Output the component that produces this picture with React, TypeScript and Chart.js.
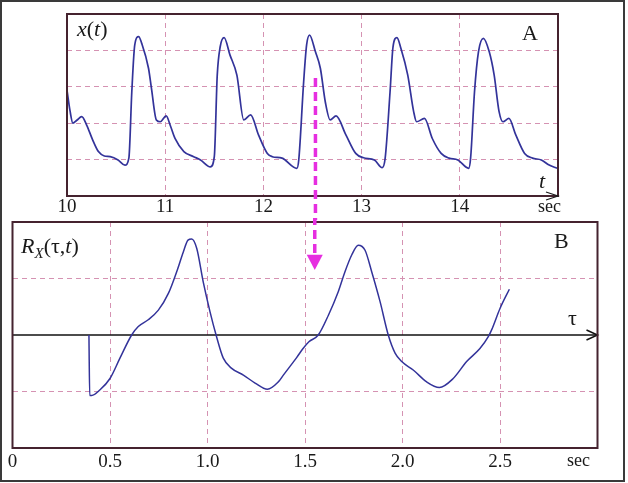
import React, { useEffect, useRef } from 'react';
import { Chart, registerables } from 'chart.js';

Chart.register(...registerables);

// ---- Panel A: signal x(t) ----
const timeA = [
  10.0, 10.03, 10.06, 10.1, 10.15, 10.2, 10.26, 10.32, 10.38, 10.44, 10.52, 10.59, 10.63, 10.66, 10.69, 10.73,
  10.76, 10.83, 10.86, 10.91, 10.95, 11.01, 11.05, 11.1, 11.19, 11.29, 11.36, 11.46, 11.5, 11.53, 11.56, 11.6,
  11.66, 11.73, 11.8, 11.87, 11.95, 12.04, 12.09, 12.19, 12.34, 12.36, 12.41, 12.44, 12.47, 12.53, 12.58, 12.63,
  12.68, 12.74, 12.84, 12.94, 13.02, 13.13, 13.21, 13.24, 13.29, 13.32, 13.36, 13.4, 13.47, 13.53, 13.56, 13.64,
  13.72, 13.81, 13.89, 13.98, 14.09, 14.11, 14.15, 14.19, 14.24, 14.3, 14.35, 14.4, 14.44, 14.5, 14.57, 14.66,
  14.74, 14.83, 14.91, 14.99,
];
const signalA = [
  2.91, 2.35, 2.0, 2.08, 2.18, 1.95, 1.55, 1.22, 1.1, 1.08, 0.99, 0.85, 1.04, 2.87, 4.15, 4.38,
  4.2, 3.51, 2.96, 2.09, 2.04, 2.2, 1.95, 1.58, 1.22, 1.08, 0.99, 0.8, 1.08, 3.32, 4.1, 4.35,
  3.87, 3.32, 2.09, 2.23, 1.68, 1.17, 1.08, 1.04, 0.76, 0.99, 3.14, 4.15, 4.42, 3.96, 3.51, 2.59,
  2.09, 2.2, 1.68, 1.17, 1.05, 0.99, 0.78, 1.04, 2.87, 4.1, 4.35, 4.06, 3.32, 2.32, 2.04, 2.13,
  1.58, 1.17, 1.04, 0.99, 0.76, 1.04, 2.87, 3.96, 4.33, 3.96, 3.32, 2.32, 2.04, 2.13, 1.68, 1.17,
  1.04, 0.99, 0.85, 0.76,
];
const tickLabelsA = ['10', '11', '12', '13', '14'];

// ---- Panel B: correlation R_X(tau, t) ----
const tauB = [
  0.392, 0.396, 0.406, 0.449, 0.5, 0.551, 0.611, 0.645, 0.696, 0.748, 0.8, 0.842, 0.876, 0.9, 0.919, 0.945,
  0.978, 1.013, 1.044, 1.081, 1.124, 1.184, 1.244, 1.307, 1.363, 1.389, 1.457, 1.49, 1.52, 1.568, 1.62, 1.671,
  1.705, 1.74, 1.773, 1.808, 1.842, 1.885, 1.927, 1.962, 1.996, 2.055, 2.124, 2.189, 2.26, 2.329, 2.397, 2.44,
  2.457, 2.5, 2.548,
];
const corrB = [
  0.0, -1.07, -1.07, -0.97, -0.77, -0.41, 0.0, 0.15, 0.27, 0.44, 0.74, 1.12, 1.47, 1.68, 1.7, 1.53,
  0.94, 0.41, 0.0, -0.41, -0.59, -0.71, -0.85, -0.96, -0.83, -0.71, -0.4, -0.24, -0.12, 0.0, 0.35, 0.77,
  1.12, 1.42, 1.59, 1.5, 1.12, 0.59, 0.0, -0.32, -0.47, -0.62, -0.83, -0.93, -0.77, -0.47, -0.24, -0.03,
  0.09, 0.47, 0.81,
];
const tickLabelsB = ['0', '0.5', '1.0', '1.5', '2.0', '2.5'];

// arrow linking the two panels
const ARROW_T = 12.53;
const ARROW_TOP_V = 3.24;
const ARROW_TAU = 1.55;
const HEAD_TOP_V = 1.42;
const HEAD_TIP_V = 1.15;

const FONT = '"Liberation Serif", "Times New Roman", serif';
const FRAME = '#45232f';
const GRID = '#d592b2';
const CURVE = '#33339a';
const MAGENTA = '#e62ee0';
const TEXT = '#1a1a1a';

const framePlugin = {
  id: 'frame',
  afterDatasetsDraw(chart: any) {
    const { ctx, chartArea: a } = chart;
    ctx.save();
    ctx.strokeStyle = FRAME;
    ctx.lineWidth = 2;
    ctx.strokeRect(a.left, a.top, a.right - a.left, a.bottom - a.top);
    ctx.restore();
  },
};

function chevron(ctx: any, x: number, y: number, len: number, half: number) {
  ctx.beginPath();
  ctx.moveTo(x - len, y - half);
  ctx.lineTo(x, y);
  ctx.lineTo(x - len, y + half);
  ctx.stroke();
}

const plotA = {
  id: 'plotA',
  afterDraw(chart: any) {
    const { ctx, chartArea: a, scales } = chart;
    ctx.save();
    ctx.strokeStyle = TEXT;
    ctx.lineWidth = 1.2;
    chevron(ctx, a.right, a.bottom, 12, 4);
    const x = scales.x.getPixelForValue(ARROW_T);
    const y0 = scales.y.getPixelForValue(ARROW_TOP_V);
    ctx.strokeStyle = MAGENTA;
    ctx.lineWidth = 3.5;
    ctx.setLineDash([9, 5]);
    ctx.beginPath();
    ctx.moveTo(x, y0);
    ctx.lineTo(x, chart.height);
    ctx.stroke();
    ctx.restore();
  },
};

const plotB = {
  id: 'plotB',
  beforeDatasetsDraw(chart: any) {
    const { ctx, chartArea: a, scales } = chart;
    const y = scales.y.getPixelForValue(0);
    ctx.save();
    ctx.strokeStyle = '#111';
    ctx.lineWidth = 1.5;
    ctx.beginPath();
    ctx.moveTo(a.left, y);
    ctx.lineTo(a.right, y);
    ctx.stroke();
    chevron(ctx, a.right, y, 11, 5);
    ctx.restore();
  },
  afterDraw(chart: any) {
    const { ctx, scales } = chart;
    const x = scales.x.getPixelForValue(ARROW_TAU);
    const hTop = scales.y.getPixelForValue(HEAD_TOP_V);
    const hTip = scales.y.getPixelForValue(HEAD_TIP_V);
    ctx.save();
    ctx.strokeStyle = MAGENTA;
    ctx.fillStyle = MAGENTA;
    ctx.lineWidth = 3.5;
    ctx.setLineDash([9, 5]);
    ctx.lineDashOffset = 2;
    ctx.beginPath();
    ctx.moveTo(x, 0);
    ctx.lineTo(x, hTop);
    ctx.stroke();
    ctx.setLineDash([]);
    ctx.beginPath();
    ctx.moveTo(x - 8, hTop);
    ctx.lineTo(x + 8, hTop);
    ctx.lineTo(x, hTip);
    ctx.closePath();
    ctx.fill();
    ctx.restore();
  },
};

function ChartA() {
  const ref = useRef<HTMLCanvasElement | null>(null);
  useEffect(() => {
    const chart = new Chart(ref.current as HTMLCanvasElement, {
      type: 'line',
      data: {
        datasets: [
          {
            data: timeA.map((t, i) => ({ x: t, y: signalA[i] })),
            borderColor: CURVE,
            borderWidth: 1.7,
            pointRadius: 0,
            cubicInterpolationMode: 'monotone',
          },
        ],
      },
      options: {
        responsive: false,
        animation: false,
        events: [],
        layout: { padding: { left: 67, right: 70, top: 14, bottom: 0 } },
        plugins: { legend: { display: false }, tooltip: { enabled: false } },
        scales: {
          x: {
            type: 'linear',
            min: 10,
            max: 15,
            afterFit: (s: any) => {
              s.height = 24;
            },
            ticks: {
              stepSize: 1,
              autoSkip: false,
              maxRotation: 0,
              padding: 0,
              color: TEXT,
              font: { family: FONT, size: 19 },
              callback: (v: any) => {
                const i = Math.round(Number(v) - 10);
                return tickLabelsA[i] ?? '';
              },
            },
            grid: { color: GRID, drawTicks: false, lineWidth: 1 },
            border: { display: false, dash: [5, 4] },
          },
          y: {
            min: 0,
            max: 5,
            afterFit: (s: any) => {
              s.width = 0;
            },
            ticks: { display: false, stepSize: 1 },
            grid: { color: GRID, drawTicks: false, lineWidth: 1 },
            border: { display: false, dash: [5, 4] },
          },
        },
      },
      plugins: [framePlugin, plotA],
    } as any);
    return () => chart.destroy();
  }, []);
  return (
    <canvas
      ref={ref}
      width={628}
      height={220}
      style={{ position: 'absolute', left: 0, top: 0, width: 628, height: 220 }}
    />
  );
}

function ChartB() {
  const ref = useRef<HTMLCanvasElement | null>(null);
  useEffect(() => {
    const chart = new Chart(ref.current as HTMLCanvasElement, {
      type: 'line',
      data: {
        datasets: [
          {
            data: tauB.map((t, i) => ({ x: t, y: corrB[i] })),
            borderColor: CURVE,
            borderWidth: 1.5,
            pointRadius: 0,
            cubicInterpolationMode: 'monotone',
          },
        ],
      },
      options: {
        responsive: false,
        animation: false,
        events: [],
        layout: { padding: { left: 12.5, right: 30.5, top: 4, bottom: 0 } },
        plugins: { legend: { display: false }, tooltip: { enabled: false } },
        scales: {
          x: {
            type: 'linear',
            min: 0,
            max: 3,
            afterFit: (s: any) => {
              s.height = 35;
            },
            ticks: {
              stepSize: 0.5,
              autoSkip: false,
              maxRotation: 0,
              padding: 3,
              color: TEXT,
              font: { family: FONT, size: 19 },
              callback: (v: any) => {
                const i = Math.round(Number(v) * 2);
                return tickLabelsB[i] ?? '';
              },
            },
            grid: { color: GRID, drawTicks: false, lineWidth: 1 },
            border: { display: false, dash: [5, 4] },
          },
          y: {
            min: -2,
            max: 2,
            afterFit: (s: any) => {
              s.width = 0;
            },
            ticks: { display: false, stepSize: 1 },
            grid: {
              color: (c: any) => (c.tick && c.tick.value === 0 ? 'rgba(0,0,0,0)' : GRID),
              drawTicks: false,
              lineWidth: 1,
            },
            border: { display: false, dash: [5, 4] },
          },
        },
      },
      plugins: [framePlugin, plotB],
    } as any);
    return () => chart.destroy();
  }, []);
  return (
    <canvas
      ref={ref}
      width={628}
      height={265}
      style={{ position: 'absolute', left: 0, top: 218, width: 628, height: 265 }}
    />
  );
}

function Label(props: { x: number; base: number; size: number; italic?: boolean; children: any }) {
  const { x, base, size, italic, children } = props;
  return (
    <span
      style={{
        position: 'absolute',
        left: x,
        top: base - 0.84 * size,
        fontSize: size,
        lineHeight: 1,
        fontFamily: FONT,
        fontStyle: italic ? 'italic' : 'normal',
        color: TEXT,
        whiteSpace: 'nowrap',
        zIndex: 2,
      }}
    >
      {children}
    </span>
  );
}

export default function App() {
  return (
    <div
      style={{
        position: 'absolute',
        left: 0,
        top: 0,
        width: 628,
        height: 483,
        background: '#fff',
        overflow: 'hidden',
      }}
    >
      <ChartA />
      <ChartB />
      <div
        style={{
          position: 'absolute',
          left: 0,
          top: 0,
          width: 625,
          height: 482,
          border: '2px solid #3a3a3a',
          boxSizing: 'border-box',
          zIndex: 3,
          pointerEvents: 'none',
        }}
      />
      <Label x={77} base={36} size={22}>
        <i>x</i>(<i>t</i>)
      </Label>
      <Label x={522} base={40} size={22}>
        A
      </Label>
      <Label x={539} base={188} size={22} italic>
        t
      </Label>
      <Label x={538} base={212} size={18}>
        sec
      </Label>
      <Label x={21} base={253} size={22}>
        <i>R</i>
        <i style={{ fontSize: 15, position: 'relative', top: 5 }}>X</i>(τ,<i>t</i>)
      </Label>
      <Label x={554} base={248} size={22}>
        B
      </Label>
      <Label x={568} base={325} size={22}>
        τ
      </Label>
      <Label x={567} base={466} size={18}>
        sec
      </Label>
    </div>
  );
}
